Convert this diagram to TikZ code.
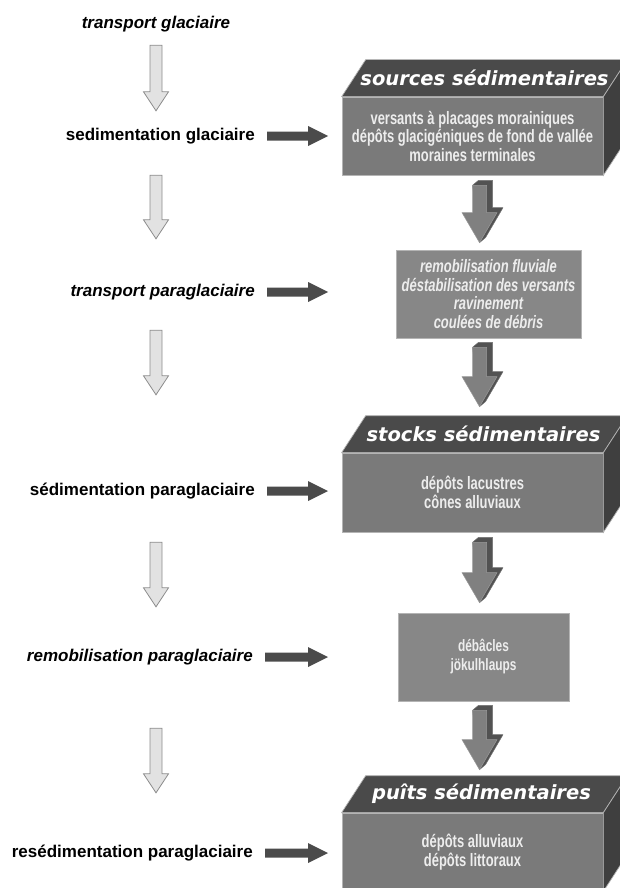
\documentclass[tikz,border=0pt]{standalone}
\usepackage{fontspec}
\setmainfont{Liberation Sans}
\newfontfamily\narrowfont{Liberation Sans}[FakeStretch=0.72]
\newfontfamily\widefont{DejaVu Sans}
\usetikzlibrary{calc}

\definecolor{topgray}{HTML}{4A4A4A}
\definecolor{frontgray}{HTML}{7A7A7A}
\definecolor{sidegray}{HTML}{3F3F3F}
\definecolor{flatgray}{HTML}{878787}
\definecolor{edgegray}{HTML}{B4B4B4}
\definecolor{boxtext}{HTML}{EDEDED}
\definecolor{arrowdark}{HTML}{4B4B4B}
\definecolor{arrowlight}{HTML}{E2E2E2}
\definecolor{arrowline}{HTML}{8C8C8C}

\begin{document}
\begin{tikzpicture}[
    x=1pt, y=-1pt,
    proc/.style={font=\bfseries\fontsize{17}{20}\selectfont, inner sep=0pt, text height=12pt, text depth=4pt},
    face/.style={draw=edgegray, fill=frontgray, line width=0.7pt, minimum width=261pt, minimum height=78pt,
        align=center, text=boxtext, font=\narrowfont\bfseries\fontsize{18}{18.5}\selectfont},
    flatbox/.style={draw=edgegray, fill=flatgray, line width=0.7pt, minimum height=88pt,
        align=center, text=boxtext, font=\narrowfont\bfseries\fontsize{18}{18.5}\selectfont},
    topface/.style={draw=edgegray, fill=topgray, line width=0.7pt},
    sideface/.style={draw=edgegray, fill=sidegray, line width=0.7pt},
    headtext/.style={text=white, inner sep=0pt, font=\widefont\bfseries\itshape\fontsize{19.5}{22}\selectfont},
    lightarrow/.style={draw=arrowline, fill=arrowlight, line width=0.8pt, line join=miter, to path={
        let \p1=(\tikztostart), \p2=(\tikztotarget) in
        (\x1-6pt,\y1) -- (\x1+6pt,\y1) -- (\x1+6pt,\y2+19pt) -- (\x1+12.5pt,\y2+19pt) -- (\x1,\y2)
        -- (\x1-12.5pt,\y2+19pt) -- (\x1-6pt,\y2+19pt) -- cycle}},
    darkarrow/.style={fill=arrowdark, to path={
        let \p1=(\tikztostart), \p2=(\tikztotarget) in
        (\x1,\y1+4.5pt) -- (\x2-20pt,\y1+4.5pt) -- (\x2-20pt,\y1+10pt) -- (\x2,\y1)
        -- (\x2-20pt,\y1-10pt) -- (\x2-20pt,\y1-4.5pt) -- (\x1,\y1-4.5pt) -- cycle}},
    arrowside/.style={fill=black!68, draw=black!55, line width=0.5pt, line join=round, to path={
        let \p1=(\tikztostart), \p2=(\tikztotarget) in
        (\x1-7pt,\y1) -- (\x1-1pt,\y1+5pt) -- (\x1+13pt,\y1+5pt) -- (\x1+13pt,\y2+35pt)
        -- (\x1+23.5pt,\y2+35pt) -- (\x1+6pt,\y2+5pt) -- (\x1,\y2) -- cycle}},
    arrowfront/.style={fill=black!50, draw=black!40, line width=0.5pt, line join=miter, to path={
        let \p1=(\tikztostart), \p2=(\tikztotarget) in
        (\x1-7pt,\y1) -- (\x1+7pt,\y1) -- (\x1+7pt,\y2+30pt) -- (\x1+17.5pt,\y2+30pt) -- (\x1,\y2)
        -- (\x1-17.5pt,\y2+30pt) -- (\x1-7pt,\y2+30pt) -- cycle}}
]
    \useasboundingbox (0,0) rectangle (620,888);

    % Columns for the arrows
    \coordinate (col) at (156,0);
    \coordinate (tipcol) at (328,0);
    \coordinate (dcol) at (479.5,0);

    % Processes on the left
    \node[proc] (lbl1) at (156,25) {\itshape transport glaciaire};
    \node[proc, anchor=east] (lbl2) at (255,136) {sedimentation glaciaire};
    \node[proc, anchor=east] (lbl3) at (255,292) {\itshape transport paraglaciaire};
    \node[proc, anchor=east] (lbl4) at (255,491) {sédimentation paraglaciaire};
    \node[proc, anchor=east] (lbl5) at (253,657) {\itshape remobilisation paraglaciaire};
    \node[proc, anchor=east] (lbl6) at (253,853) {resédimentation paraglaciaire};

    % Boxes on the right
    \node[face] (src) at (472.5,136) {versants à placages morainiques\\dépôts glacigéniques de fond de vallée\\moraines terminales};
    \node[flatbox, minimum width=185pt, font=\narrowfont\bfseries\itshape\fontsize{18}{18.7}\selectfont] (rem) at (488.5,294)
        {remobilisation fluviale\\déstabilisation des versants\\ravinement\\coulées de débris};
    \node[face, minimum height=79pt] (stk) at (472.5,492.5) {dépôts lacustres\\cônes alluviaux};
    \node[flatbox, minimum width=171pt, font=\narrowfont\bfseries\fontsize{16.5}{19}\selectfont] (deb) at (483.5,657) {débâcles\\jökulhlaups};
    \node[face] (pts) at (472.5,852) {dépôts alluviaux\\dépôts littoraux};

    % Top and side faces
    \foreach \b in {src,stk,pts} {
        \draw[topface] (\b.north west) -- ++(24,-37) -- ([shift={(24,-37)}]\b.north east) -- (\b.north east) -- cycle;
        \draw[sideface] (\b.north east) -- ++(24,-37) -- ([shift={(24,-37)}]\b.south east) -- (\b.south east) -- cycle;
    }
    \node[headtext] (srch) at ([shift={(12,-18.5)}]src.north) {sources sédimentaires};
    \node[headtext] (stkh) at ([shift={(11,-18.5)}]stk.north) {stocks sédimentaires};
    \node[headtext] (ptsh) at ([shift={(9,-18.5)}]pts.north) {puîts sédimentaires};

    % Light arrows down the left
    \foreach \a/\b/\s/\e in {lbl1/lbl2/12/17, lbl2/lbl3/31/45, lbl3/lbl4/30/88, lbl4/lbl5/43/42, lbl5/lbl6/63/52}
        \draw[lightarrow] ([yshift=-\s pt]\a.south -| col) to ([yshift=\e pt]\b.north -| col);

    % Dark arrows to the right
    \foreach \a in {lbl2,lbl3,lbl4,lbl5,lbl6}
        \path[darkarrow] ([xshift=12pt]\a.east) to (\a.east -| tipcol);

    % Block arrows between the boxes
    \foreach \a/\b/\s/\e in {src/rem/10/7, rem/stk/9/46, stk/deb/10/10, deb/pts/9/43} {
        \path[arrowside] ([yshift=-\s pt]\a.south -| dcol) to ([yshift=\e pt]\b.north -| dcol);
        \path[arrowfront] ([yshift=-\s pt]\a.south -| dcol) to ([yshift=\e pt]\b.north -| dcol);
    }

\end{tikzpicture}
\end{document}
